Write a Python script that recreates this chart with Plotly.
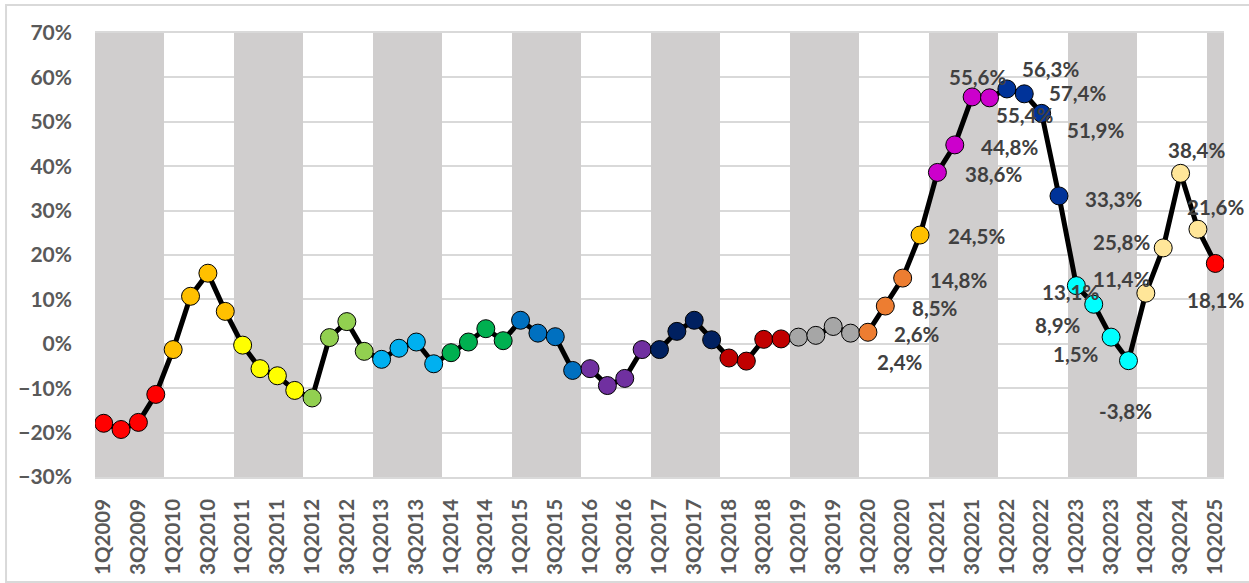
import plotly.graph_objects as go

# ---- data ----
years = list(range(2009, 2025))
quarters = [f"{q}Q{y}" for y in years for q in (1, 2, 3, 4)] + ["1Q2025"]

values = [
    -17.9, -19.3, -17.7, -11.4,      # 2009
    -1.3, 10.7, 15.9, 7.3,           # 2010
    -0.3, -5.6, -7.2, -10.5,         # 2011
    -12.2, 1.4, 5.0, -1.7,           # 2012
    -3.5, -1.0, 0.4, -4.5,           # 2013
    -2.0, 0.4, 3.4, 0.7,             # 2014
    5.3, 2.4, 1.6, -6.0,             # 2015
    -5.6, -9.4, -7.8, -1.3,          # 2016
    -1.3, 2.8, 5.3, 0.9,             # 2017
    -3.2, -3.9, 1.0, 1.1,            # 2018
    1.5, 1.9, 3.9, 2.4,              # 2019
    2.6, 8.5, 14.8, 24.5,            # 2020
    38.6, 44.8, 55.6, 55.4,          # 2021
    57.4, 56.3, 51.9, 33.3,          # 2022
    13.1, 8.9, 1.5, -3.8,            # 2023
    11.4, 21.6, 38.4, 25.8,          # 2024
    18.1,                            # 2025
]

tick_labels = quarters[::2]
label_start = quarters.index("4Q2019")

# ---- styles ----
marker_colors = (
    ["#FF0000"] * 4 + ["#FFC000"] * 4 + ["#FFFF00"] * 4 + ["#92D050"] * 4 +
    ["#00B0F0"] * 4 + ["#00B050"] * 4 + ["#0070C0"] * 4 + ["#7030A0"] * 4 +
    ["#002060"] * 4 + ["#C00000"] * 4 + ["#A6A6A6"] * 4 +
    ["#ED7D31"] * 3 + ["#FFC000"] +
    ["#CC00CC"] * 4 + ["#003399"] * 4 + ["#00FFFF"] * 4 + ["#FFE699"] * 4 +
    ["#FF0000"]
)

# pixel offsets (dx, dy; dy positive = down) of each data label from its point
label_offsets = [
    (49, 29), (49, 2), (50, 2), (56, 2), (56, 1),
    (56, 2), (55, 2), (5, -20), (35, 17),
    (71, 4), (26, -25), (54, 17), (55, 3),
    (-6, 6), (-36, 21), (-35, 17), (-3, 50),
    (-24, -14), (52, -41), (16, -23), (-76, 13),
    (0, 37),
]

YMIN, YMAX = -30, 70
band_y = [YMAX - YMIN if int(q[-4:]) % 2 == 1 else 0 for q in quarters]

fig = go.Figure()

fig.add_trace(go.Bar(
    x=quarters, y=band_y, base=YMIN, width=1,
    marker=dict(color="#D0CECE", line=dict(width=0)),
    hoverinfo="skip", showlegend=False,
))

fig.add_trace(go.Scatter(
    x=quarters, y=values, mode="lines+markers",
    line=dict(color="#000000", width=5),
    marker=dict(size=18, color=marker_colors, line=dict(color="#000000", width=1)),
    showlegend=False,
))

annotations = []
for k, (dx, dy) in enumerate(label_offsets):
    i = label_start + k
    v = values[i]
    annotations.append(dict(
        x=quarters[i], y=v, xref="x", yref="y",
        text=f"{v:.1f}".replace(".", ",") + "%",
        showarrow=False, xshift=dx, yshift=-dy,
        font=dict(family="Lato", size=20.5, color="#404040", weight="bold"),
    ))

fig.update_layout(
    width=1249, height=583,
    margin=dict(l=95, r=25, t=33, b=106, autoexpand=False),
    paper_bgcolor="#FFFFFF", plot_bgcolor="#FFFFFF",
    bargap=0,
    annotations=annotations,
    shapes=[dict(
        type="rect", xref="paper", yref="paper",
        x0=-0.0788, x1=1.05, y0=-0.2365, y1=1.063,
        line=dict(color="#D9D9D9", width=2), fillcolor="rgba(0,0,0,0)",
        layer="below",
    )],
)

fig.update_xaxes(
    type="category", range=[-0.5, len(quarters) - 0.5], automargin=False,
    tickmode="array", tickvals=tick_labels, ticktext=tick_labels,
    tickangle=-90, ticklabelstandoff=12,
    tickfont=dict(family="Lato", size=20.5, color="#595959", weight="bold"),
    showgrid=False, showline=True, mirror=True, linecolor="#D9D9D9", linewidth=1.5,
    ticks="",
)

fig.update_yaxes(
    range=[YMIN, YMAX], dtick=10, ticksuffix="%", automargin=False,
    tickfont=dict(family="Lato", size=21, color="#595959", weight="bold"),
    gridcolor="#D9D9D9", gridwidth=1.5,
    zeroline=True, zerolinecolor="#D9D9D9", zerolinewidth=1.5,
    ticklabelstandoff=22, showline=False, ticks="",
)

fig.write_html("out.html")
